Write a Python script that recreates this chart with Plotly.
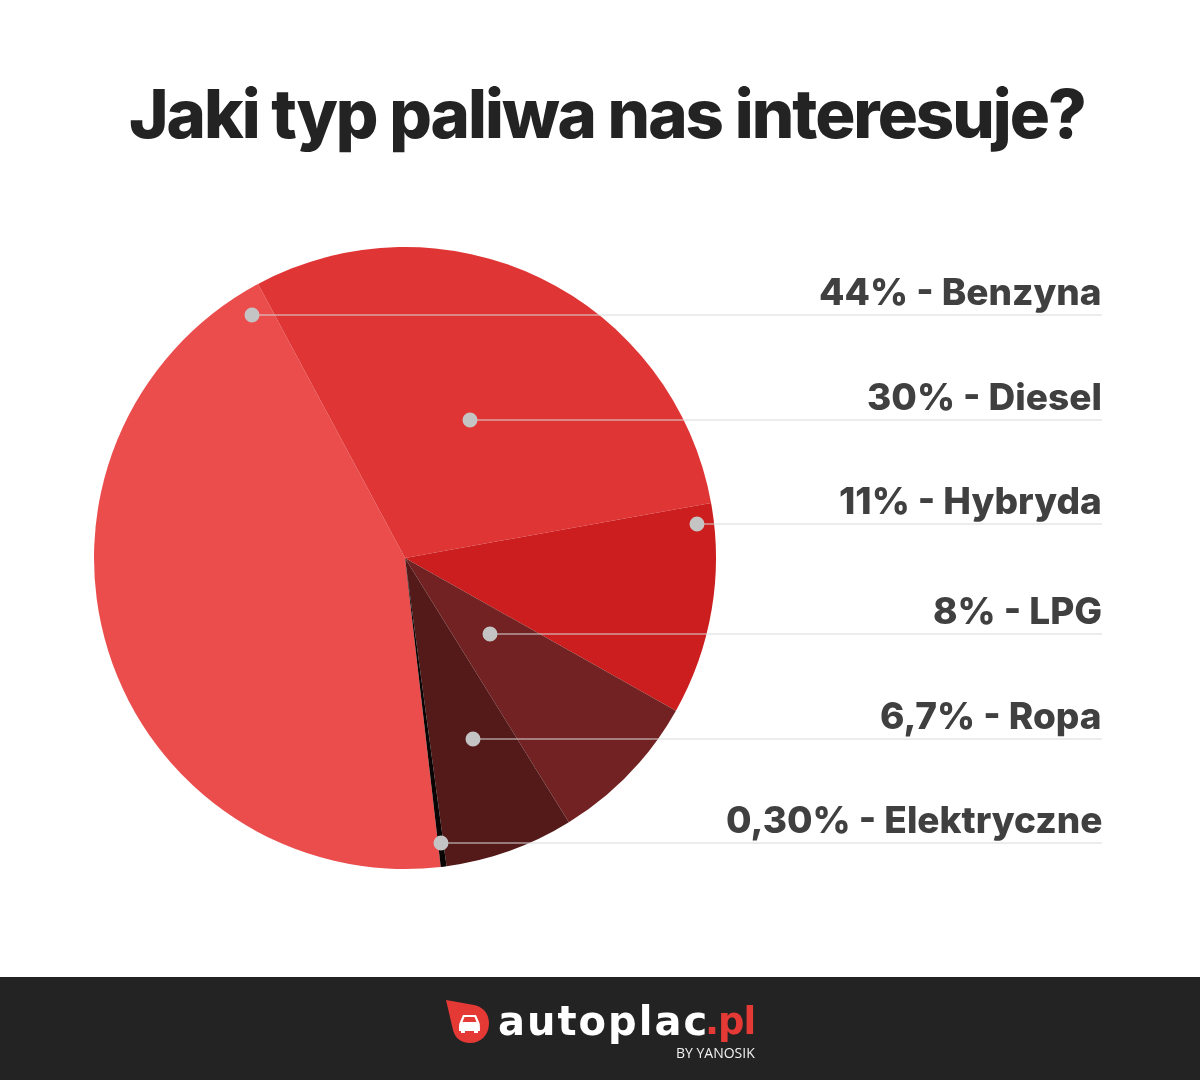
import plotly.graph_objects as go

W = 1200
H = 1080

# pie values, clockwise
fuels = ["Benzyna", "Diesel", "Hybryda", "LPG", "Ropa", "Elektryczne"]
shares = [44, 30, 11, 8, 6.7, 0.3]
colors = ["#EB4D4D", "#E03535", "#CC1E1E", "#722222", "#541A1A", "#0A0505"]

# right hand labels
label_texts = ["44% - Benzyna", "30% - Diesel", "11% - Hybryda", "8% - LPG",
               "6,7% - Ropa", "0,30% - Elektryczne"]
line_y = [315, 420, 524, 634, 739, 843]
dot_x = [252, 470, 697, 490, 473, 441]

TEXT_FONT = "Inter"
cx, cy, r = 405, 558, 311

fig = go.Figure()
# invisible trace, only so the pixel axes exist for shapes and annotations
fig.add_trace(go.Scatter(x=[0, W], y=[0, H], mode="markers", opacity=0,
                         hoverinfo="skip", showlegend=False))
fig.add_trace(go.Pie(
    labels=fuels,
    values=shares,
    sort=False,
    direction="clockwise",
    rotation=173.4,
    textinfo="none",
    hoverinfo="label+percent",
    showlegend=False,
    marker=dict(colors=colors, line=dict(width=0)),
    domain=dict(x=[(cx - r) / W, (cx + r) / W],
                y=[1 - (cy + r) / H, 1 - (cy - r) / H]),
))

shapes = []
annotations = []

# bottom band
shapes.append(dict(type="rect", x0=0, x1=W, y0=977, y1=H, layer="above",
                   fillcolor="#232323", line_width=0))

for text, y, x in zip(label_texts, line_y, dot_x):
    shapes.append(dict(type="line", x0=x, x1=1102, y0=y, y1=y, layer="above",
                       line=dict(color="#D9D9D9", width=1.2)))
    shapes.append(dict(type="circle", x0=x - 7.5, x1=x + 7.5, y0=y - 7.5, y1=y + 7.5,
                       layer="above", fillcolor="#C4C4C4", line_width=0))
    annotations.append(dict(
        x=1104, y=y - 24, text=text, showarrow=False, xanchor="right", yanchor="middle",
        font=dict(family=TEXT_FONT, size=37, color="#404040", weight=800)))

# title
annotations.append(dict(
    x=607, y=113, showarrow=False, xanchor="center", yanchor="middle",
    text='<span style="letter-spacing:-2px">Jaki typ paliwa nas interesuje?</span>',
    font=dict(family=TEXT_FONT, size=67, color="#232323", weight=800)))

# logo
shapes.append(dict(
    type="path", layer="above", fillcolor="#E53935", line_width=0,
    path="M446,1000 L474,1005 C484,1007 489,1015 489,1023 C489,1035 481,1043 470,1043 "
         "C461,1043 455,1038 453,1030 Z"))
shapes.append(dict(
    type="path", layer="above", fillcolor="#FFFFFF", line_width=0,
    path="M463,1015 L476,1015 L479,1022 C480,1024 480,1026 480,1031 L478,1031 L478,1033 "
         "L474,1033 L474,1031 L465,1031 L465,1033 L461,1033 L461,1031 L459,1031 "
         "C459,1026 459,1024 460,1022 Z"))
shapes.append(dict(
    type="path", layer="above", fillcolor="#E53935", line_width=0,
    path="M464.5,1017 L474.5,1017 L476.5,1022 L462.5,1022 Z"))
annotations.append(dict(
    x=496, y=1021, text='<span style="letter-spacing:2px">autoplac</span>', showarrow=False,
    xanchor="left", yanchor="middle",
    font=dict(family="DejaVu Sans", size=40, color="#FFFFFF", weight=700)))
annotations.append(dict(
    x=757, y=1021, text='<span style="letter-spacing:-1px">.pl</span>', showarrow=False,
    xanchor="right", yanchor="middle",
    font=dict(family="DejaVu Sans", size=37, color="#E53935", weight=700)))
annotations.append(dict(
    x=757, y=1052, text="BY YANOSIK", showarrow=False, xanchor="right", yanchor="middle",
    font=dict(family="Open Sans", size=14, color="#F0F0F0")))

fig.update_layout(
    width=W, height=H,
    margin=dict(l=0, r=0, t=0, b=0),
    paper_bgcolor="#FFFFFF",
    plot_bgcolor="rgba(0,0,0,0)",
    xaxis=dict(range=[0, W], visible=False, fixedrange=True),
    yaxis=dict(range=[H, 0], visible=False, fixedrange=True),
    shapes=shapes,
    annotations=annotations,
)
# browser default body margin would push everything 8px
fig.write_html("out.html", config=dict(displayModeBar=False),
               post_script="document.body.style.margin='0';document.body.style.overflow='hidden';")
